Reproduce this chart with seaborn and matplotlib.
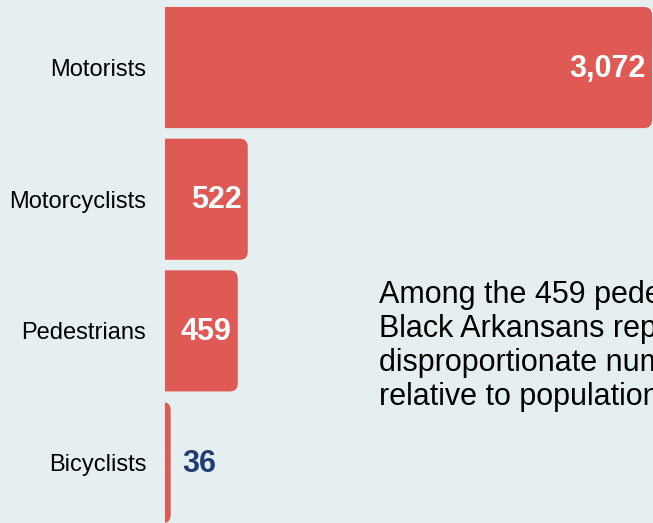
import matplotlib
matplotlib.use("Agg")
import matplotlib.pyplot as plt
import seaborn as sns
import pandas as pd
from matplotlib.patches import FancyBboxPatch

categories = ["Motorists", "Motorcyclists", "Pedestrians", "Bicyclists"]
fatalities = [3072, 522, 459, 36]
value_labels = ["3,072", "522", "459", "36"]
note_text = ("Among the 459 pedestrians killed,\n"
             "Black Arkansans represented a\n"
             "disproportionate number of deaths\n"
             "relative to population.")

BG = "#e5eff1"
BAR = "#e05a55"
NAVY = "#1f3d73"

sns.set_theme(style="white")
plt.rcParams['font.family'] = ['Liberation Sans', 'DejaVu Sans']

df = pd.DataFrame({"category": categories, "value": fatalities})

W, H = 653, 523
fig = plt.figure(figsize=(W / 100, H / 100), dpi=100, facecolor=BG)
ax = fig.add_axes([165 / W, 0, (W - 165) / W, 1])
ax.set_facecolor(BG)

sns.barplot(data=df, x="value", y="category", color=BAR, saturation=1,
            width=0.92, ax=ax, orient="h")

ax.set_xlim(0, 3078)
ax.set_ylim(3.459, -0.513)

# px -> data conversions
x_per_px = 3078 / (W - 165)
y_per_px = (3.459 + 0.513) / H
r_px = 8
rounding = r_px * x_per_px
aspect = (r_px * y_per_px) / rounding

for p in list(ax.patches):
    x, y = p.get_x(), p.get_y()
    w, h = p.get_width(), p.get_height()
    p.set_visible(False)
    ext = 300
    box = FancyBboxPatch((x - ext, y), w + ext, h,
                         boxstyle=f"round,pad=0,rounding_size={rounding}",
                         mutation_aspect=aspect, fc=BAR, ec="none")
    ax.add_patch(box)

for i, (v, lab) in enumerate(zip(fatalities, value_labels)):
    if v > 200:
        ax.annotate(lab, xy=(v, i), xytext=(-6, -1), textcoords="offset pixels",
                    ha="right", va="center", color="white",
                    fontsize=22, fontweight="bold")
    else:
        ax.annotate(lab, xy=(v, i), xytext=(12, -1), textcoords="offset pixels",
                    ha="left", va="center", color=NAVY,
                    fontsize=22, fontweight="bold")

ax.set_xlabel("")
ax.set_ylabel("")
ax.set_xticks([])
ax.tick_params(axis="y", length=0, pad=13.5, labelsize=17, labelcolor="black")
for s in ax.spines.values():
    s.set_visible(False)

fig.text(379 / W, 1 - 280 / H, note_text, ha="left", va="top",
         fontsize=22, color="black", linespacing=1.17)

fig.savefig("out.png", dpi=100, facecolor=BG)
